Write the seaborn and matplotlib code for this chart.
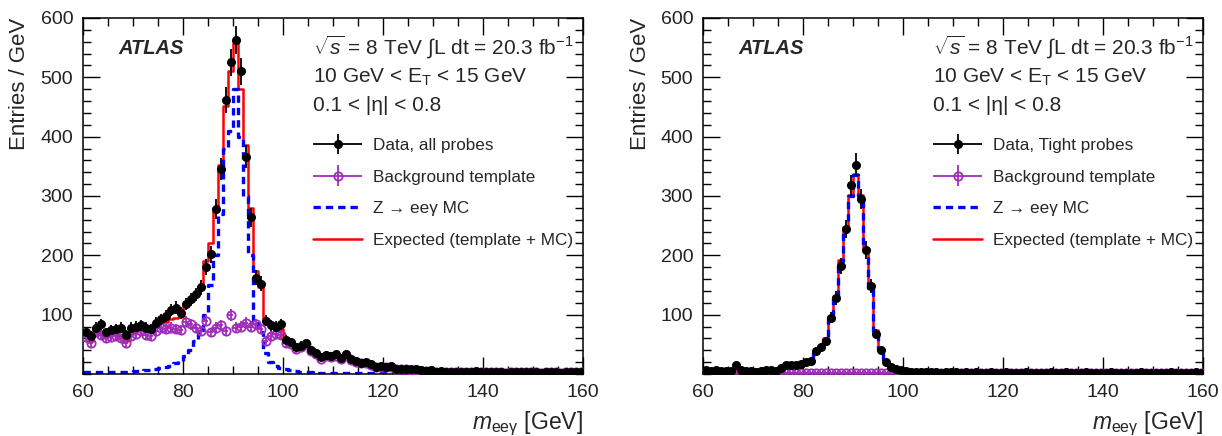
import numpy as np
import pandas as pd
import matplotlib
matplotlib.use("Agg")
import matplotlib.pyplot as plt
import seaborn as sns
from matplotlib.ticker import MultipleLocator, FixedLocator
from matplotlib.lines import Line2D
from matplotlib.container import ErrorbarContainer
from matplotlib.legend_handler import HandlerErrorbar

# 1 GeV bins from 60 to 160 GeV
bin_edges = np.arange(60, 161, 1)
bin_centers = bin_edges[:-1] + 0.5

# left panel: all probes
data_all = np.array([
    70, 64, 78, 84, 70, 74, 76, 78, 66, 78,
    80, 82, 78, 76, 86, 92, 98, 108, 112, 102,
    118, 126, 134, 146, 180, 202, 278, 346, 462, 525,
    563, 510, 366, 264, 162, 152, 90, 82, 80, 84,
    58, 54, 46, 48, 52, 40, 36, 28, 32, 30,
    33, 27, 34, 25, 22, 19, 20, 17, 12, 13,
    12, 13, 9, 8, 9, 8, 8, 6, 5, 6,
    4, 5, 3, 4, 4, 3, 4, 3, 5, 3,
    4, 3, 3, 4, 2, 3, 4, 3, 3, 4,
    3, 2, 4, 3, 3, 2, 3, 3, 4, 3])
bkg_all = np.array([
    62, 52, 70, 66, 60, 62, 64, 60, 52, 64,
    68, 72, 66, 64, 72, 78, 76, 78, 76, 74,
    88, 84, 78, 72, 90, 70, 78, 82, 72, 100,
    78, 80, 86, 80, 84, 76, 56, 64, 68, 66,
    52, 50, 42, 46, 50, 38, 34, 26, 30, 28,
    31, 26, 32, 24, 21, 18, 19, 16, 11, 12,
    11, 12, 8, 8, 8, 7, 7, 5, 5, 5,
    4, 4, 3, 3, 4, 3, 3, 3, 4, 3,
    3, 3, 3, 3, 2, 3, 3, 3, 3, 3,
    3, 2, 3, 3, 3, 2, 3, 3, 3, 3])
mc_all = np.array([
    3, 3, 3, 3, 3, 4, 4, 4, 4, 4,
    5, 5, 6, 7, 8, 10, 12, 14, 18, 22,
    30, 40, 55, 75, 100, 150, 200, 270, 380, 410,
    480, 400, 300, 200, 90, 70, 35, 20, 14, 10,
    8, 6, 5, 4, 3, 3, 2, 2, 2, 2,
    2, 1, 1, 1, 1, 1, 1, 1, 1, 1,
    1, 1, 1, 1, 1, 1, 1, 1, 1, 1,
    1, 1, 1, 1, 1, 1, 1, 1, 1, 1,
    1, 1, 1, 1, 1, 1, 1, 1, 1, 1,
    1, 1, 1, 1, 1, 1, 1, 1, 1, 1])

# right panel: tight probes
data_tight = np.array([
    6, 5, 6, 5, 5, 5, 16, 6, 5, 5,
    4, 5, 6, 6, 5, 10, 15, 16, 16, 17,
    20, 22, 38, 45, 55, 95, 128, 182, 244, 318,
    353, 295, 209, 148, 68, 40, 21, 12, 8, 6,
    5, 4, 4, 3, 4, 3, 3, 2, 3, 3,
    3, 2, 3, 2, 3, 2, 2, 3, 2, 2,
    3, 2, 2, 2, 3, 2, 2, 2, 2, 3,
    2, 2, 3, 2, 2, 2, 3, 2, 2, 2,
    2, 3, 2, 2, 2, 2, 2, 3, 2, 2,
    2, 2, 2, 3, 2, 2, 2, 2, 3, 2])
bkg_tight = np.array([
    2, 2, 2, 2, 2, 2, 2, 2, 2, 2,
    2, 2, 2, 2, 2, 2, 2, 2, 2, 2,
    2, 2, 2, 2, 2, 2, 2, 2, 2, 2,
    2, 2, 2, 2, 2, 2, 2, 2, 2, 2,
    2, 2, 2, 2, 2, 2, 2, 2, 2, 2,
    2, 2, 2, 2, 2, 2, 2, 2, 2, 2,
    2, 2, 2, 2, 2, 2, 2, 2, 2, 2,
    2, 2, 2, 2, 2, 2, 2, 2, 2, 2,
    2, 2, 2, 2, 2, 2, 2, 2, 2, 2,
    2, 2, 2, 2, 2, 2, 2, 2, 2, 2])
mc_tight = np.array([
    4, 4, 4, 4, 4, 4, 5, 5, 5, 5,
    5, 5, 6, 6, 7, 8, 10, 12, 14, 15,
    18, 22, 35, 45, 58, 95, 130, 190, 245, 300,
    335, 300, 210, 145, 72, 40, 22, 13, 8, 6,
    5, 4, 4, 3, 3, 3, 3, 3, 2, 2,
    2, 2, 2, 2, 2, 2, 2, 2, 2, 2,
    1, 1, 1, 1, 1, 1, 1, 1, 1, 1,
    1, 1, 1, 1, 1, 1, 1, 1, 1, 1,
    1, 1, 1, 1, 1, 1, 1, 1, 1, 1,
    1, 1, 1, 1, 1, 1, 1, 1, 1, 1])

y_ticks = [100, 200, 300, 400, 500, 600]
legend_labels_all = ["Data, all probes", "Background template",
                     "Z \u2192 ee\u03b3 MC", "Expected (template + MC)"]
legend_labels_tight = ["Data, Tight probes", "Background template",
                       "Z \u2192 ee\u03b3 MC", "Expected (template + MC)"]

sns.set_theme(style="ticks")
plt.rcParams["font.family"] = ["Liberation Sans", "DejaVu Sans"]
plt.rcParams["mathtext.fontset"] = "custom"
plt.rcParams["mathtext.rm"] = "Liberation Sans"
plt.rcParams["mathtext.it"] = "Liberation Sans:italic"
plt.rcParams["mathtext.bf"] = "Liberation Sans:bold"

MAGENTA = "#a02cba"
RED = "#ff0000"
BLUE = "#0000ff"


def draw_panel(ax, data, bkg, mc, labels):
    df = pd.DataFrame({"m": bin_centers, "expected": bkg + mc, "mc": mc})
    sns.histplot(data=df, x="m", weights="expected", binwidth=1, binrange=(60, 160),
                 element="step", fill=False, color=RED, linewidth=1.8, ax=ax)
    sns.histplot(data=df, x="m", weights="mc", binwidth=1, binrange=(60, 160),
                 element="step", fill=False, color=BLUE, linewidth=2.4,
                 linestyle=(0, (2.2, 1.5)), ax=ax)
    eb_bkg = ax.errorbar(bin_centers, bkg, yerr=np.sqrt(bkg), xerr=0.5, fmt="o",
                         ms=6, mfc="none", mec=MAGENTA, mew=1.3, ecolor=MAGENTA,
                         elinewidth=1.3, capsize=0, zorder=3)
    eb_data = ax.errorbar(bin_centers, data, yerr=np.sqrt(data), xerr=0.5, fmt="o",
                          ms=5.5, color="black", ecolor="black", elinewidth=1.3,
                          capsize=0, zorder=4)

    ax.set_xlim(60, 160)
    ax.set_ylim(0, 600)
    ax.xaxis.set_major_locator(MultipleLocator(20))
    ax.xaxis.set_minor_locator(MultipleLocator(5))
    ax.yaxis.set_major_locator(FixedLocator(y_ticks))
    ax.yaxis.set_minor_locator(MultipleLocator(20))
    ax.tick_params(which="both", direction="in", top=True, right=True,
                   labelsize=14, pad=7, color="black", labelcolor="#222222")
    ax.tick_params(which="major", length=12, width=1)
    ax.tick_params(which="minor", length=6, width=1)
    for sp in ax.spines.values():
        sp.set_linewidth(1.1)
        sp.set_color("black")

    ax.set_xlabel(r"$m_{\mathrm{ee\gamma}}$ [GeV]", fontsize=16.5, loc="right")
    ax.xaxis.set_label_coords(1.0, -0.1)
    ax.set_ylabel("Entries / GeV", fontsize=16, loc="top")
    ax.yaxis.set_label_coords(-0.105, 1.0)

    ax.text(0.07, 0.915, "ATLAS", transform=ax.transAxes, fontsize=14.5,
            fontweight="bold", fontstyle="italic", va="center")
    ax.text(0.46, 0.918, r"$\sqrt{s}$ = 8 TeV $\int$L dt = 20.3 fb$^{-1}$",
            transform=ax.transAxes, fontsize=15, va="center")
    ax.text(0.46, 0.834, r"10 GeV < E$_{\mathrm{T}}$ < 15 GeV",
            transform=ax.transAxes, fontsize=15, va="center")
    ax.text(0.46, 0.753, "0.1 < |\u03b7| < 0.8",
            transform=ax.transAxes, fontsize=15, va="center")

    handles = [eb_data, eb_bkg,
               Line2D([], [], color=BLUE, lw=2.4, ls=(0, (2.2, 1.5))),
               Line2D([], [], color=RED, lw=1.8)]
    ax.legend(handles, labels, loc="upper left", bbox_to_anchor=(0.46, 0.663),
              frameon=False, fontsize=12.3, handlelength=2.87, handletextpad=0.64,
              labelspacing=0.98, borderpad=0, borderaxespad=0,
              handler_map={ErrorbarContainer: HandlerErrorbar(xerr_size=1.43, yerr_size=0.6)})


fig = plt.figure(figsize=(12.22, 4.36), dpi=100)
ax1 = fig.add_axes([83 / 1222, 62 / 436, 500 / 1222, 356 / 436])
ax2 = fig.add_axes([703 / 1222, 62 / 436, 500 / 1222, 356 / 436])
draw_panel(ax1, data_all, bkg_all, mc_all, legend_labels_all)
draw_panel(ax2, data_tight, bkg_tight, mc_tight, legend_labels_tight)

fig.savefig("out.png", dpi=100, facecolor="white")
